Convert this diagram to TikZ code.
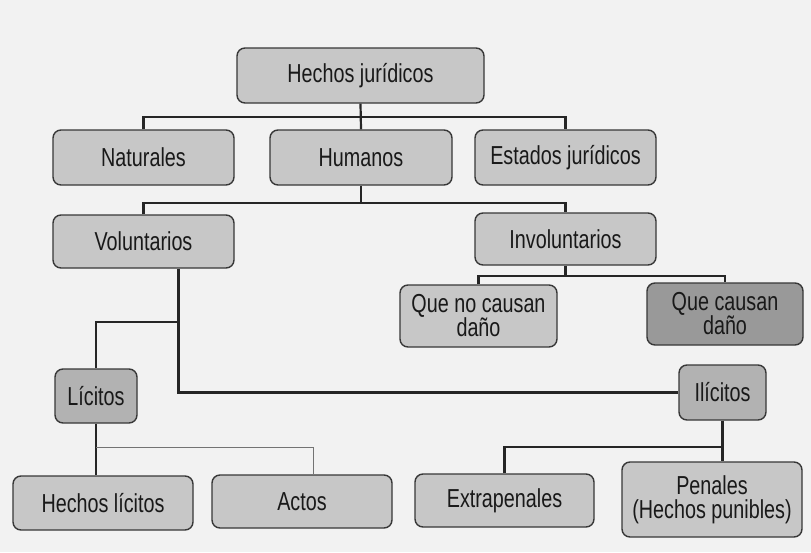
\documentclass[tikz,border=0pt]{standalone}
\usepackage{fontspec}
\setmainfont[FakeStretch=0.76]{Liberation Sans}
\begin{document}
\begin{tikzpicture}[x=1pt,y=-1pt,
  box/.style={draw=black!78, line width=1.4pt, rounded corners=8pt, fill=black!22,
    inner sep=0pt, align=center, text=black!90, font=\fontsize{26}{24}\selectfont},
  darkbox/.style={box, fill=black!40},
  midbox/.style={box, fill=black!30},
  conn/.style={draw=black!85, line width=2.2pt},
  thinconn/.style={draw=black!55, line width=0.9pt}]
\useasboundingbox (0,0) rectangle (811,552);
\fill[black!5] (0,0) rectangle (811,552);
% nodes
\node[box, minimum width=247, minimum height=55] (hj) at (360.5,75.5) {Hechos jurídicos};
\node[box, minimum width=181, minimum height=55] (nat) at (143.5,157.5) {Naturales};
\node[box, minimum width=182, minimum height=55] (hum) at (361,157.5) {Humanos};
\node[box, minimum width=181, minimum height=55] (est) at (565.5,157.5) {Estados jurídicos};
\node[box, minimum width=181, minimum height=53] (vol) at (143.5,241.5) {Voluntarios};
\node[box, minimum width=181, minimum height=52] (inv) at (565.5,239) {Involuntarios};
\node[box, minimum width=157, minimum height=62] (qn) at (478.5,316) {Que no causan\\daño};
\node[darkbox, minimum width=156, minimum height=62] (qc) at (725,314) {Que causan\\daño};
\node[midbox, minimum width=82, minimum height=54] (lic) at (96,396) {Lícitos};
\node[midbox, minimum width=87, minimum height=55] (ilic) at (722.5,392.5) {Ilícitos};
\node[box, minimum width=180, minimum height=54] (hl) at (103,503) {Hechos lícitos};
\node[box, minimum width=180, minimum height=53] (act) at (302,501.5) {Actos};
\node[box, minimum width=179, minimum height=53] (ext) at (504.5,500.5) {Extrapenales};
\node[box, minimum width=180, minimum height=75] (pen) at (712,499.5) {Penales\\(Hechos punibles)};
% bar coordinates
\coordinate (bar1) at (0,117);
\coordinate (bar2) at (0,203);
\coordinate (bar3) at (0,276);
\coordinate (bar4) at (0,322);
\coordinate (bar5) at (0,447);
\coordinate (bar6) at (0,447);
\coordinate (vdrop) at ([xshift=35pt]vol.south);
% connectors
\draw[conn] (hj.south) -- (hum.north);
\draw[conn] (nat.north) |- (bar1 -| est.north) -- (est.north);
\draw[conn] (hum.south) -- (hum.south |- bar2);
\draw[conn] (vol.north) |- (bar2 -| inv.north) -- (inv.north);
\draw[conn] (inv.south) -- (inv.south |- bar3);
\draw[conn] (qn.north) |- (bar3 -| qc.north) -- (qc.north);
\draw[conn] (vdrop) |- (ilic.west);
\draw[conn] (lic.north) |- (vdrop |- bar4);
\draw[conn] (lic.south) -- (lic.south |- hl.north);
\draw[thinconn] (lic.south |- bar5) -| ([xshift=11pt]act.north);
\draw[conn] (ilic.south) -- (ilic.south |- pen.north);
\draw[conn] (ext.north) |- (bar6 -| ilic.south);
\end{tikzpicture}
\end{document}
